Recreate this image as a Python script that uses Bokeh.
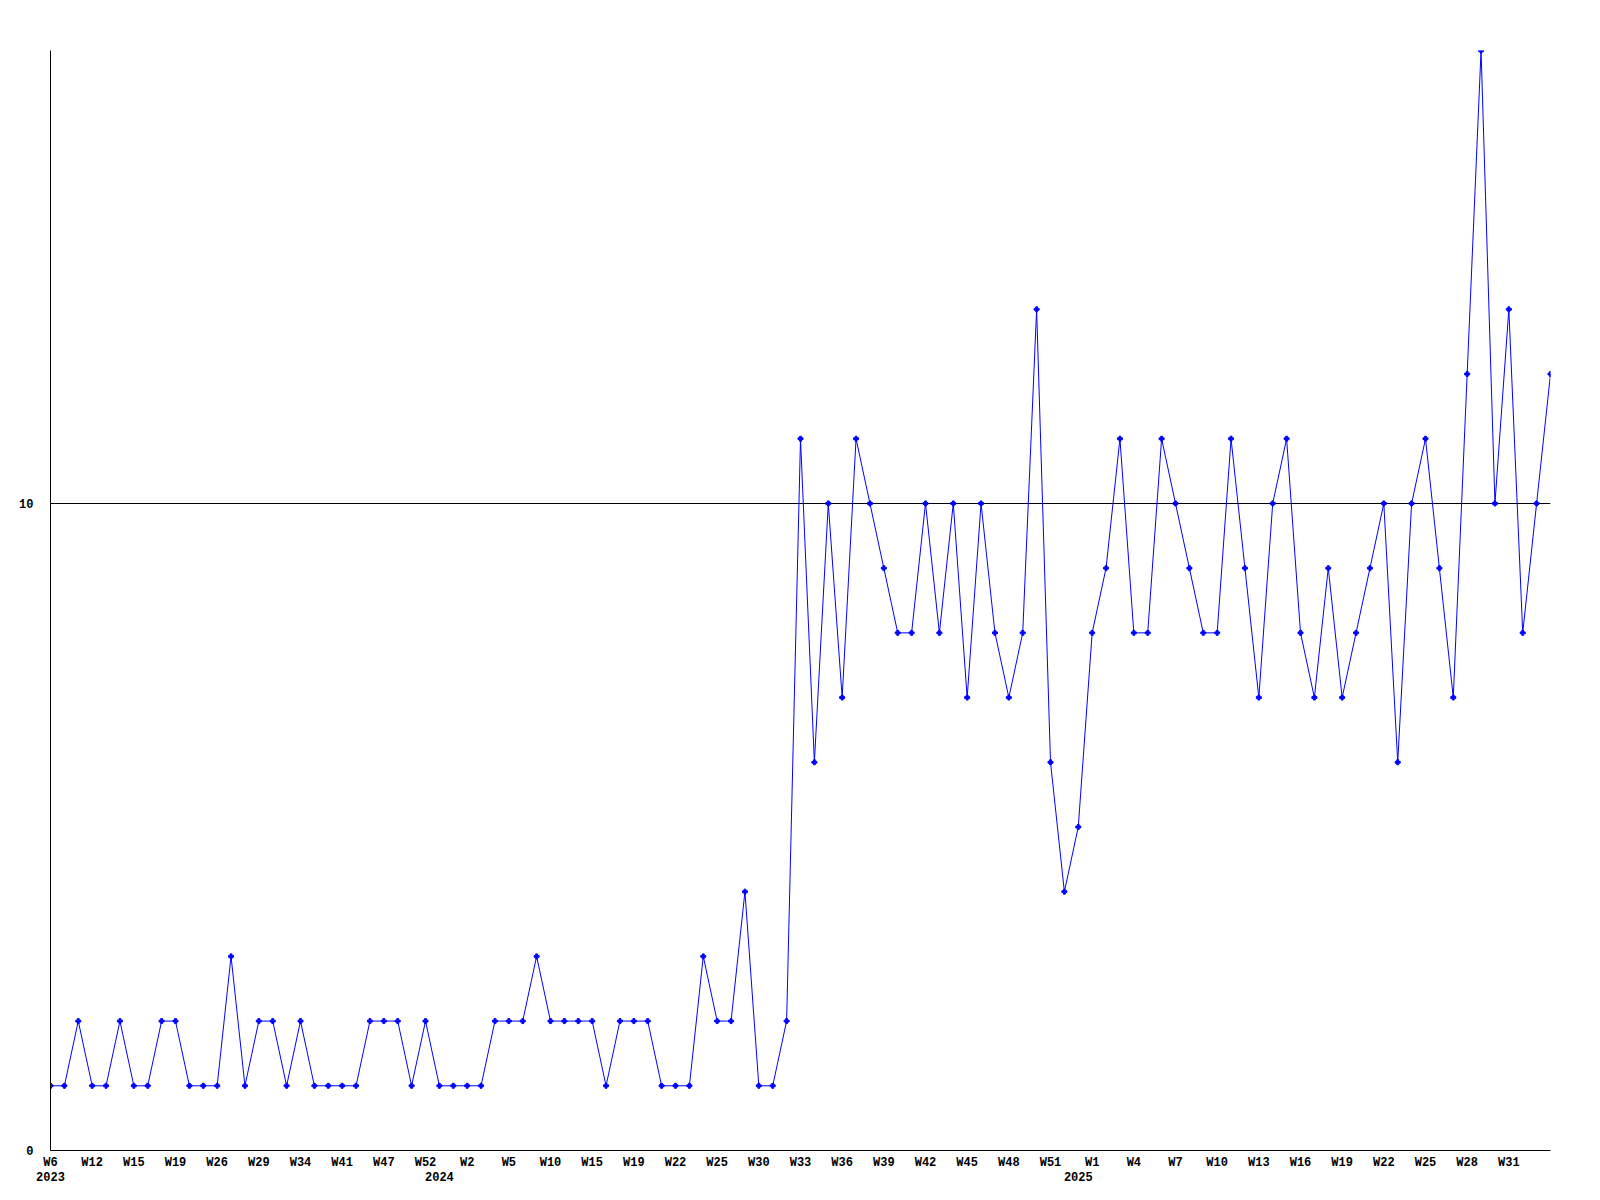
from bokeh.plotting import figure
from bokeh.models import Range1d, FixedTicker, LinearAxis
from bokeh.embed import file_html
from bokeh.resources import INLINE

# weekly values, one per point
values = [
    1, 1, 2, 1, 1, 2, 1, 1, 2, 2, 1, 1, 1, 3, 1, 2, 2, 1, 2, 1, 1, 1, 1, 2, 2, 2,
    1, 2, 1, 1, 1, 1, 2, 2, 2, 3, 2, 2, 2, 2, 1, 2, 2, 2, 1, 1, 1, 3, 2, 2, 4, 1, 1, 2,
    11, 6, 10, 7, 11, 10, 9, 8, 8, 10, 8, 10, 7, 10, 8, 7, 8, 13, 6, 4, 5, 8,
    9, 11, 8, 8, 11, 10, 9, 8, 8, 11, 9, 7, 10, 11, 8, 7, 9, 7, 8, 9,
    10, 6, 10, 11, 9, 7, 12, 17, 10, 13, 8, 10, 12,
]

# week tick labels, one every 3rd point
week_labels = [
    "W6", "W12", "W15", "W19", "W26", "W29", "W34", "W41", "W47", "W52",
    "W2", "W5", "W10", "W15", "W19", "W22", "W25", "W30", "W33", "W36",
    "W39", "W42", "W45", "W48", "W51", "W1", "W4", "W7", "W10", "W13",
    "W16", "W19", "W22", "W25", "W28", "W31",
]
label_step = 3

# year labels and the point index where each year starts
year_labels = ["2023", "2024", "2025"]
year_start_index = [0, 28, 74]

y_ticks = [0, 10]
y_max = 17

FONT = "Liberation Mono"
FSIZE = "12px"

x = list(range(len(values)))
week_ticks = [i * label_step for i in range(len(week_labels))]

p = figure(
    frame_width=1500, frame_height=1100,
    output_backend="svg", toolbar_location=None,
    x_range=Range1d(0, len(values) - 1), y_range=Range1d(0, y_max),
    min_border_left=50, min_border_right=42, min_border_top=50, min_border_bottom=42,
)
p.outline_line_color = None
p.background_fill_color = "white"
p.border_fill_color = "white"

p.line(x, values, line_color="#0000ff", line_width=1)
p.scatter(x, values, marker="plus", size=5, fill_color="#0000ff", line_color="#0000ff")

# grids
p.xgrid.visible = False
p.ygrid.ticker = FixedTicker(ticks=[10])
p.ygrid.grid_line_color = "black"
p.ygrid.grid_line_width = 1

# x axis: week labels
xa = p.xaxis[0]
xa.ticker = FixedTicker(ticks=week_ticks)
xa.major_label_overrides = {t: l for t, l in zip(week_ticks, week_labels)}
xa.axis_line_color = "black"
xa.major_tick_line_color = None
xa.minor_tick_line_color = None
xa.major_tick_in = 0
xa.major_tick_out = 0
xa.major_label_standoff = 5
xa.major_label_text_font = FONT
xa.major_label_text_font_size = FSIZE
xa.major_label_text_font_style = "bold"
xa.major_label_text_color = "black"

# second x axis: years
ya2 = LinearAxis(
    ticker=FixedTicker(ticks=year_start_index),
    major_label_overrides={t: l for t, l in zip(year_start_index, year_labels)},
)
ya2.axis_line_color = None
ya2.major_tick_line_color = None
ya2.minor_tick_line_color = None
ya2.major_tick_in = 0
ya2.major_tick_out = 0
ya2.major_label_standoff = -1
ya2.major_label_text_font = FONT
ya2.major_label_text_font_size = FSIZE
ya2.major_label_text_font_style = "bold"
ya2.major_label_text_color = "black"
p.add_layout(ya2, "below")

# y axis
ya = p.yaxis[0]
ya.ticker = FixedTicker(ticks=y_ticks)
ya.axis_line_color = "black"
ya.major_tick_line_color = None
ya.minor_tick_line_color = None
ya.major_tick_in = 0
ya.major_tick_out = 0
ya.major_label_standoff = 17
ya.major_label_text_font = FONT
ya.major_label_text_font_size = FSIZE
ya.major_label_text_font_style = "bold"
ya.major_label_text_color = "black"

open("out.html", "w").write(file_html(p, INLINE))
